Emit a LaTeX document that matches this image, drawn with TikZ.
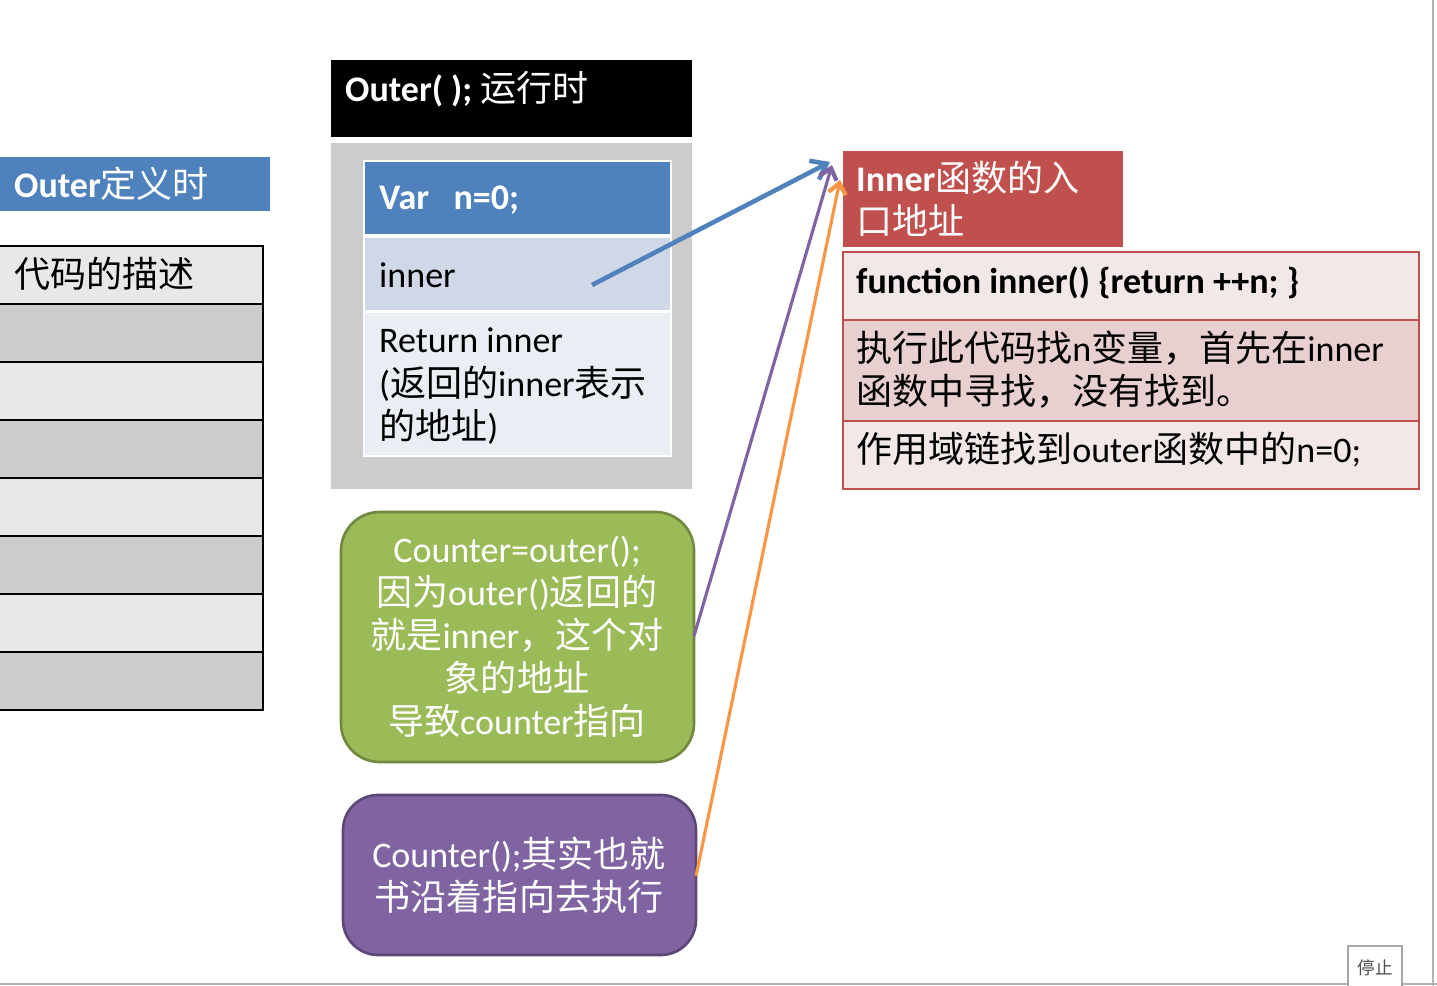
\documentclass[tikz,border=0pt]{standalone}
\usepackage{fontspec}
\setmainfont{Carlito}
\newfontfamily\zhf{Noto Sans CJK SC}
\newcommand{\zh}[1]{{\zhf\mdseries #1}}
\usetikzlibrary{arrows.meta}
\definecolor{cblue}{HTML}{4F81BD}
\definecolor{cgray}{HTML}{CCCCCC}
\definecolor{clight}{HTML}{E8E8E8}
\definecolor{cin}{HTML}{D0D8E8}
\definecolor{cret}{HTML}{E9EDF4}
\definecolor{cgreen}{HTML}{9BBB59}
\definecolor{cgreenb}{HTML}{71893F}
\definecolor{cpurp}{HTML}{8064A2}
\definecolor{cpurpb}{HTML}{5C4776}
\definecolor{cred}{HTML}{C0504D}
\definecolor{cpink1}{HTML}{F2E8E8}
\definecolor{cpink2}{HTML}{E8CFD0}
\definecolor{corange}{HTML}{F79646}
\begin{document}
\begin{tikzpicture}[x=0.02cm,y=-0.02cm,
  cell/.style={draw=black,line width=0.8pt},
  rt/.style={font=\fontsize{20.5}{24.5}\selectfont,anchor=west},
  bt/.style={font=\fontsize{20.5}{24.5}\selectfont\bfseries,anchor=west},
  arr/.style={line width=2.6pt,-{Straight Barb[length=8pt,width=12pt]}},
  arrt/.style={line width=1.8pt,-{Straight Barb[length=6pt,width=10pt,line width=2.4pt]}}]
\useasboundingbox (0,0) rectangle (1437,986);
% left
\fill[cblue] (0,157) rectangle (270,211);
\node[bt,text=white] (odef) at (8,184) {Outer\zh{定义时}};
\foreach \i in {0,...,7}{
  \pgfmathsetmacro\ya{246+58*\i}
  \pgfmathsetmacro\yb{304+58*\i}
  \pgfmathparse{mod(\i,2)==0?"clight":"cgray"}
  \edef\cc{\pgfmathresult}
  \draw[cell,fill=\cc] (-2,\ya) rectangle (263,\yb);
}
\node[rt] (desc) at (8,274) {\zh{代码的描述}};
% middle
\fill[black] (331,60) rectangle (692,137);
\node[bt,text=white] (outer) at (339,89) {Outer( ); \zh{运行时}};
\fill[cgray] (331,143) rectangle (692,489);
\draw[white,line width=1pt,fill=cblue] (364,161) rectangle (671,235);
\node[bt,text=white] (var) at (373,200) {Var\ \ \ n=0;};
\draw[white,line width=1pt,fill=cin] (364,237) rectangle (671,311);
\node[rt] (inner) at (373,275) {inner};
\coordinate (innerp) at (592,285);
\draw[white,line width=1pt,fill=cret] (364,312) rectangle (671,456);
\node[rt,align=left,anchor=north west] (ret) at (373,322) {Return inner\\(\zh{返回的}inner\zh{表示}\\\zh{的地址})};
\draw[cgreenb,line width=1.5pt,fill=cgreen,rounded corners=22] (341,512) rectangle (694,762);
\node[text=white,align=center,font=\fontsize{20.5}{24.5}\selectfont] (green) at (517,637) {Counter=outer();\\\zh{因为}outer()\zh{返回的}\\\zh{就是}inner\zh{，这个对}\\\zh{象的地址}\\\zh{导致}counter\zh{指向}};
\coordinate (gp) at (694,636);
\draw[cpurpb,line width=1.5pt,fill=cpurp,rounded corners=20] (343,795) rectangle (696,955);
\node[text=white,align=center,font=\fontsize{20.5}{24.5}\selectfont] (purple) at (519,875) {Counter();\zh{其实也就}\\\zh{书沿着指向去执行}};
\coordinate (pp) at (696,876);
% right
\fill[cred] (843,151) rectangle (1123,247);
\node[bt,text=white,align=left,anchor=north west] (inh) at (850,155) {Inner\zh{函数的入}\\\zh{口地址}};
\coordinate (ta) at (830,162);
\coordinate (tb) at (832,165);
\coordinate (tc) at (840,180);
\draw[cred,line width=1pt,fill=cpink1] (843,252) rectangle (1419,320);
\draw[cred,line width=1pt,fill=cpink2] (843,320) rectangle (1419,421);
\draw[cred,line width=1pt,fill=cpink1] (843,421) rectangle (1419,489);
\node[bt] (fn) at (850,283) {function inner() \{return ++n; \}};
\node[rt,align=left] (exec) at (850,370) {\zh{执行此代码找}n\zh{变量，首先在}inner\\\zh{函数中寻找，没有找到。}};
\node[rt] (scope) at (850,450) {\zh{作用域链找到}outer\zh{函数中的}n=0;};
% arrows
\draw[arr,cblue] (innerp) -- (ta);
\draw[arrt,cpurp] (gp) -- (tb);
\draw[arrt,corange] (pp) -- (tc);
% frame
\draw[gray!60,line width=1pt] (1433,0) -- (1433,986);
\draw[gray!60,line width=1.5pt] (0,984) -- (1437,984);
\draw[gray!70,line width=1pt,fill=white] (1348,986) -- (1348,946) -- (1402,946) -- (1402,986);
\node[font=\zhf\fontsize{10}{12}\selectfont,text=black!70] (stop) at (1375,968) {停止};
\end{tikzpicture}
\end{document}
